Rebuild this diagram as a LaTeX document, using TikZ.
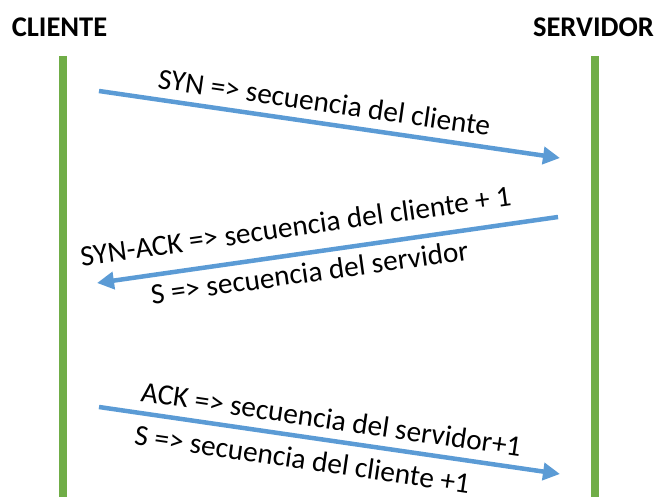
\documentclass[tikz,border=0pt]{standalone}
\usepackage{fontspec}
\setmainfont{Carlito}
\usetikzlibrary{arrows.meta}
\definecolor{lifegreen}{HTML}{70AD47}
\definecolor{msgblue}{HTML}{5B9BD5}
\tikzset{
  lifeline/.style={draw=lifegreen, line width=7.5pt},
  msg/.style={draw=msgblue, line width=4.5pt, -{Triangle[length=17pt,width=17pt]}},
  header/.style={font=\fontsize{28.5}{34}\selectfont\bfseries, anchor=base, inner sep=0pt},
  msglabel/.style={font=\fontsize{29.3}{35}\selectfont, anchor=base, inner sep=0pt},
}
\begin{document}
\begin{tikzpicture}[x=1pt,y=-1pt]
\useasboundingbox (0,0) rectangle (658,497);
% headers
\node[header] (cli) at (59.5,37) {CLIENTE};
\node[header] (srv) at (593.5,37) {SERVIDOR};
% lifelines
\coordinate (cliTop) at (63,56);
\coordinate (cliBot) at (63,497);
\coordinate (srvTop) at (595,56);
\coordinate (srvBot) at (595,497);
\draw[lifeline] (cliTop) -- (cliBot);
\draw[lifeline] (srvTop) -- (srvBot);
% messages
\coordinate (m1s) at (99,91);
\coordinate (m1e) at (560,158);
\coordinate (m2s) at (558,217);
\coordinate (m2e) at (97,283);
\coordinate (m3s) at (99,407);
\coordinate (m3e) at (560,474);
\draw[msg] (m1s) -- (m1e);
\draw[msg] (m2s) -- (m2e);
\draw[msg] (m3s) -- (m3e);
% labels
\node[msglabel, rotate=-8.2] (l1) at (323,112) {SYN => secuencia del cliente};
\node[msglabel, rotate=8.0] (l2a) at (297,236) {SYN-ACK => secuencia del cliente + 1};
\node[msglabel, rotate=8.0] (l2b) at (311,282) {S => secuencia del servidor};
\node[msglabel, rotate=-8.3] (l3a) at (330,429) {ACK => secuencia del servidor+1};
\node[msglabel, rotate=-8.3] (l3b) at (301,469) {S => secuencia del cliente +1};
\end{tikzpicture}
\end{document}
